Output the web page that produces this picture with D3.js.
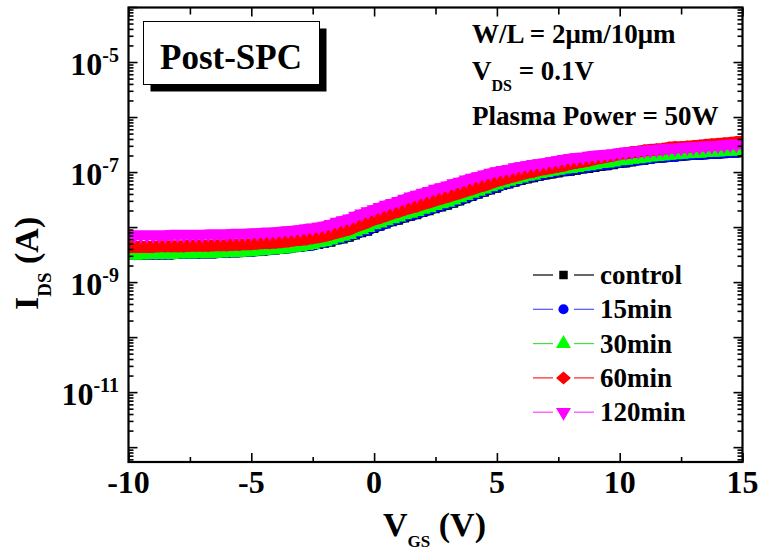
<!DOCTYPE html>
<html><head><meta charset="utf-8">
<script src="https://cdn.jsdelivr.net/npm/d3@7"></script>
<style>html,body{margin:0;padding:0;background:#fff;}svg{display:block;} text{font-family:"Liberation Serif","DejaVu Serif",serif;font-weight:bold;}</style>
</head><body><svg id="c" width="763" height="554"></svg>
<script>
// ---- data: VGS sweep (V) and log10(IDS / A) per series ----
const vgs = d3.range(-10, 15.25, 0.25);
const seriesNames = ["control", "15min", "30min", "60min", "120min"];
const seriesColors = ["#000000", "#0000ff", "#00ff00", "#ff0000", "#ff00ff"];
const seriesLineColors = ["#000000", "#5050ff", "#40e040", "#ff2020", "#ff40ff"];
const seriesSymbols = ["square", "circle", "triangleUp", "diamond", "triangleDown"];

const logIdsControl = [
-8.52,-8.52,-8.52,-8.51,-8.51,-8.51,-8.51,-8.51,
-8.50,-8.50,-8.50,-8.50,-8.49,-8.49,-8.49,-8.48,
-8.48,-8.47,-8.47,-8.46,-8.46,-8.45,-8.44,-8.43,
-8.42,-8.41,-8.40,-8.38,-8.37,-8.36,-8.34,-8.32,
-8.30,-8.28,-8.24,-8.22,-8.19,-8.15,-8.11,-8.08,
-8.03,-7.99,-7.95,-7.91,-7.88,-7.84,-7.81,-7.78,
-7.74,-7.71,-7.67,-7.64,-7.61,-7.57,-7.53,-7.49,
-7.45,-7.41,-7.37,-7.33,-7.30,-7.25,-7.22,-7.19,
-7.16,-7.13,-7.11,-7.08,-7.06,-7.04,-7.02,-7.00,
-6.99,-6.97,-6.95,-6.94,-6.92,-6.90,-6.89,-6.87,
-6.85,-6.84,-6.82,-6.80,-6.79,-6.77,-6.76,-6.75,
-6.74,-6.73,-6.72,-6.71,-6.70,-6.70,-6.69,-6.68,
-6.68,-6.67,-6.66,-6.66,-6.65];
const logIds15 = [
-8.51,-8.51,-8.51,-8.50,-8.50,-8.50,-8.50,-8.50,
-8.49,-8.49,-8.49,-8.49,-8.48,-8.48,-8.48,-8.47,
-8.47,-8.46,-8.46,-8.45,-8.45,-8.44,-8.43,-8.42,
-8.41,-8.40,-8.39,-8.37,-8.36,-8.35,-8.34,-8.31,
-8.29,-8.26,-8.23,-8.20,-8.17,-8.13,-8.09,-8.06,
-8.01,-7.98,-7.94,-7.89,-7.86,-7.82,-7.79,-7.76,
-7.72,-7.69,-7.65,-7.62,-7.59,-7.55,-7.51,-7.47,
-7.43,-7.39,-7.35,-7.31,-7.28,-7.24,-7.21,-7.17,
-7.14,-7.11,-7.09,-7.06,-7.04,-7.02,-7.00,-6.98,
-6.97,-6.95,-6.93,-6.92,-6.90,-6.88,-6.87,-6.85,
-6.83,-6.82,-6.80,-6.79,-6.78,-6.76,-6.75,-6.74,
-6.73,-6.72,-6.71,-6.70,-6.69,-6.69,-6.68,-6.67,
-6.67,-6.66,-6.65,-6.65,-6.64];
const logIds30 = [
-8.51,-8.51,-8.51,-8.50,-8.50,-8.50,-8.50,-8.50,
-8.49,-8.49,-8.49,-8.49,-8.48,-8.48,-8.48,-8.47,
-8.47,-8.46,-8.46,-8.45,-8.45,-8.44,-8.43,-8.42,
-8.41,-8.40,-8.39,-8.37,-8.36,-8.34,-8.32,-8.29,
-8.27,-8.24,-8.20,-8.17,-8.14,-8.09,-8.05,-8.01,
-7.96,-7.93,-7.89,-7.85,-7.82,-7.78,-7.75,-7.72,
-7.68,-7.65,-7.61,-7.58,-7.55,-7.51,-7.47,-7.43,
-7.39,-7.35,-7.31,-7.27,-7.24,-7.20,-7.17,-7.14,
-7.11,-7.08,-7.06,-7.03,-7.01,-6.99,-6.97,-6.95,
-6.94,-6.92,-6.90,-6.89,-6.87,-6.85,-6.84,-6.82,
-6.80,-6.79,-6.77,-6.76,-6.75,-6.73,-6.72,-6.71,
-6.70,-6.69,-6.68,-6.67,-6.66,-6.66,-6.65,-6.64,
-6.64,-6.63,-6.62,-6.62,-6.61];
const logIds60 = [
-8.36,-8.36,-8.36,-8.36,-8.36,-8.35,-8.35,-8.35,
-8.35,-8.35,-8.34,-8.34,-8.34,-8.34,-8.33,-8.33,
-8.33,-8.32,-8.32,-8.31,-8.31,-8.30,-8.29,-8.29,
-8.28,-8.27,-8.26,-8.24,-8.23,-8.22,-8.20,-8.18,
-8.16,-8.13,-8.10,-8.07,-8.04,-7.99,-7.95,-7.91,
-7.86,-7.83,-7.79,-7.75,-7.72,-7.68,-7.65,-7.62,
-7.58,-7.55,-7.51,-7.48,-7.45,-7.41,-7.38,-7.34,
-7.31,-7.27,-7.24,-7.20,-7.16,-7.13,-7.10,-7.07,
-7.04,-7.01,-6.99,-6.96,-6.94,-6.92,-6.90,-6.88,
-6.85,-6.83,-6.81,-6.79,-6.76,-6.74,-6.72,-6.70,
-6.67,-6.66,-6.64,-6.63,-6.61,-6.60,-6.59,-6.58,
-6.56,-6.55,-6.55,-6.54,-6.53,-6.52,-6.51,-6.50,
-6.49,-6.48,-6.47,-6.46,-6.45];
const logIds120 = [
-8.15,-8.15,-8.15,-8.15,-8.15,-8.15,-8.15,-8.14,
-8.14,-8.14,-8.14,-8.14,-8.14,-8.13,-8.13,-8.13,
-8.13,-8.12,-8.12,-8.12,-8.11,-8.11,-8.10,-8.10,
-8.09,-8.08,-8.07,-8.06,-8.05,-8.03,-8.02,-8.00,
-7.98,-7.95,-7.91,-7.88,-7.85,-7.80,-7.76,-7.72,
-7.68,-7.64,-7.60,-7.57,-7.53,-7.49,-7.45,-7.42,
-7.38,-7.35,-7.31,-7.28,-7.25,-7.21,-7.18,-7.14,
-7.11,-7.08,-7.05,-7.02,-6.99,-6.97,-6.95,-6.92,
-6.90,-6.88,-6.86,-6.85,-6.83,-6.81,-6.79,-6.77,
-6.75,-6.74,-6.73,-6.71,-6.70,-6.69,-6.68,-6.67,
-6.65,-6.64,-6.63,-6.62,-6.61,-6.60,-6.59,-6.58,
-6.57,-6.57,-6.56,-6.55,-6.55,-6.54,-6.53,-6.53,
-6.52,-6.51,-6.50,-6.50,-6.49];
const seriesLog = [logIdsControl, logIds15, logIds30, logIds60, logIds120];

const xTickMajor = [-10, -5, 0, 5, 10, 15];
const xTickMinor = [-7.5, -2.5, 2.5, 7.5, 12.5];
const yLabelExps = [-5, -7, -9, -11];
const yMajorExps = [-12, -11, -10, -9, -8, -7, -6, -5, -4];

// ---- layout ----
const L = 128.5, R = 742.5, T = 7.5, B = 462;
const FONT = "Liberation Serif, DejaVu Serif, serif";
const svg = d3.select("#c");

const x = d3.scaleLinear().domain([-10, 15]).range([L, R]);
const y = d3.scaleLog().domain([Math.pow(10, -12.27), 1e-4]).range([B, 7]);

const yMajor = yMajorExps.map(e => Math.pow(10, e));
const yMinor = [];
for (let e = -13; e <= -5; e++) for (let k = 2; k <= 9; k++) {
  const v = k * Math.pow(10, e);
  if (v >= y.domain()[0] && v <= y.domain()[1]) yMinor.push(v);
}

svg.append("defs").append("clipPath").attr("id", "plotclip")
  .append("rect").attr("x", L).attr("y", T).attr("width", R - L).attr("height", B - T);

// ---- symbols ----
const symbolDiamondWide = {
  draw(ctx, size) {
    const h = Math.sqrt(size / 2.3), w = 1.15 * h;
    ctx.moveTo(0, -h); ctx.lineTo(w, 0); ctx.lineTo(0, h); ctx.lineTo(-w, 0); ctx.closePath();
  }
};
const symType = {
  square: d3.symbolSquare, circle: d3.symbolCircle,
  triangleUp: d3.symbolTriangle, diamond: symbolDiamondWide, triangleDown: d3.symbolTriangle
};
const symSize = { square: 72, circle: 80, triangleUp: 97, diamond: 97, triangleDown: 97 };
const symRot = { square: 0, circle: 0, triangleUp: 0, diamond: 0, triangleDown: 180 };
// body thickness of each marker row (dense sweep renders as a continuous band)
const bandWidth = { square: 8.4, circle: 9.5, triangleUp: 8.6, diamond: 12, triangleDown: 10 };

const plot = svg.append("g").attr("clip-path", "url(#plotclip)");
seriesLog.forEach((arr, si) => {
  const pts = arr.map((lv, i) => ({ v: vgs[i], i: Math.pow(10, lv) }));
  const s = seriesSymbols[si];
  const line = d3.line().x(d => x(d.v)).y(d => y(d.i));
  plot.append("path").datum(pts)
    .attr("fill", "none").attr("stroke", seriesColors[si]).attr("stroke-width", bandWidth[s])
    .attr("stroke-linejoin", "round").attr("d", line);
  const sym = d3.symbol().type(symType[s]).size(symSize[s]);
  plot.append("g").selectAll("path").data(pts).join("path")
    .attr("d", sym)
    .attr("fill", seriesColors[si])
    .attr("transform", d => `translate(${x(d.v)},${y(d.i)}) rotate(${symRot[s]})`);
});

// ---- axes (ticks inward) ----
function styleAxis(g) { g.select(".domain").remove(); g.selectAll("line").attr("stroke", "#000").attr("stroke-width", 1.6); }
svg.append("g").attr("transform", `translate(${L},0)`).call(d3.axisLeft(y).tickValues(yMajor).tickSize(-9).tickFormat("")).call(styleAxis);
svg.append("g").attr("transform", `translate(${L},0)`).call(d3.axisLeft(y).tickValues(yMinor).tickSize(-5).tickFormat("")).call(styleAxis);
svg.append("g").attr("transform", `translate(${R},0)`).call(d3.axisRight(y).tickValues(yMajor).tickSize(-9).tickFormat("")).call(styleAxis);
svg.append("g").attr("transform", `translate(${R},0)`).call(d3.axisRight(y).tickValues(yMinor).tickSize(-5).tickFormat("")).call(styleAxis);
svg.append("g").attr("transform", `translate(0,${B})`).call(d3.axisBottom(x).tickValues(xTickMajor).tickSize(-9).tickFormat("")).call(styleAxis);
svg.append("g").attr("transform", `translate(0,${B})`).call(d3.axisBottom(x).tickValues(xTickMinor).tickSize(-5).tickFormat("")).call(styleAxis);
svg.append("g").attr("transform", `translate(0,${T})`).call(d3.axisTop(x).tickValues(xTickMajor).tickSize(-9).tickFormat("")).call(styleAxis);
svg.append("g").attr("transform", `translate(0,${T})`).call(d3.axisTop(x).tickValues(xTickMinor).tickSize(-7).tickFormat("")).call(styleAxis);

// frame
svg.append("rect").attr("x", L).attr("y", T).attr("width", R - L).attr("height", B - T)
  .attr("fill", "none").attr("stroke", "#000").attr("stroke-width", 2.2);

function txt(sel) { return sel.attr("font-family", FONT).attr("font-weight", "bold").attr("fill", "#000"); }

// x tick labels
svg.append("g").selectAll("text").data(xTickMajor).join("text").call(txt)
  .attr("x", d => x(d)).attr("y", 493).attr("text-anchor", "middle")
  .attr("font-size", 32).text(d => d);

// y tick labels 10^n
const yl = svg.append("g").selectAll("text").data(yLabelExps).join("text").call(txt)
  .attr("x", 119).attr("y", d => y(Math.pow(10, d)) + 13).attr("text-anchor", "end")
  .attr("font-size", 32);
yl.append("tspan").text("10");
yl.append("tspan").attr("font-size", 20).attr("dy", -13).text(d => d);

// axis titles
const xt = svg.append("text").call(txt).attr("x", 383).attr("y", 536).attr("font-size", 34);
xt.append("tspan").text("V");
xt.append("tspan").attr("font-size", 17).attr("dy", 11).text("GS");
xt.append("tspan").attr("dy", -11).text(" (V)");

const ytx = svg.append("text").call(txt).attr("transform", "translate(38,310) rotate(-90)").attr("font-size", 34);
ytx.append("tspan").text("I");
ytx.append("tspan").attr("font-size", 19).attr("dy", 13).text("DS");
ytx.append("tspan").attr("dy", -13).text(" (A)");

// Post-SPC box
svg.append("rect").attr("x", 150.5).attr("y", 28.5).attr("width", 176).attr("height", 63).attr("fill", "#000");
svg.append("rect").attr("x", 143.5).attr("y", 21.5).attr("width", 176).attr("height", 63)
  .attr("fill", "#fff").attr("stroke", "#000").attr("stroke-width", 1);
svg.append("text").call(txt).attr("x", 160).attr("y", 69).attr("font-size", 35).text("Post-SPC");

// annotations
svg.append("text").call(txt).attr("x", 472).attr("y", 43).attr("font-size", 27).text("W/L = 2\u03bcm/10\u03bcm");
const vds = svg.append("text").call(txt).attr("x", 472).attr("y", 80).attr("font-size", 27);
vds.append("tspan").text("V");
vds.append("tspan").attr("font-size", 16).attr("dy", 11).text("DS");
vds.append("tspan").attr("dy", -11).text(" = 0.1V");
svg.append("text").call(txt).attr("x", 472).attr("y", 125).attr("font-size", 27).text("Plasma Power = 50W");

// legend
const legY0 = 275, legDy = 34.3;
const leg = svg.append("g");
seriesNames.forEach((nm, si) => {
  const cy = legY0 + si * legDy;
  const s = seriesSymbols[si];
  leg.append("line").attr("x1", 533).attr("x2", 553).attr("y1", cy).attr("y2", cy)
    .attr("stroke", seriesLineColors[si]).attr("stroke-width", 1.2);
  leg.append("line").attr("x1", 574).attr("x2", 594).attr("y1", cy).attr("y2", cy)
    .attr("stroke", seriesLineColors[si]).attr("stroke-width", 1.2);
  leg.append("path").attr("d", d3.symbol().type(symType[s]).size(symSize[s]))
    .attr("fill", seriesColors[si])
    .attr("transform", `translate(563.5,${cy}) rotate(${symRot[s]})`);
  leg.append("text").call(txt).attr("x", 600).attr("y", cy + 9).attr("font-size", 27).text(nm);
});
</script>
</body></html>
